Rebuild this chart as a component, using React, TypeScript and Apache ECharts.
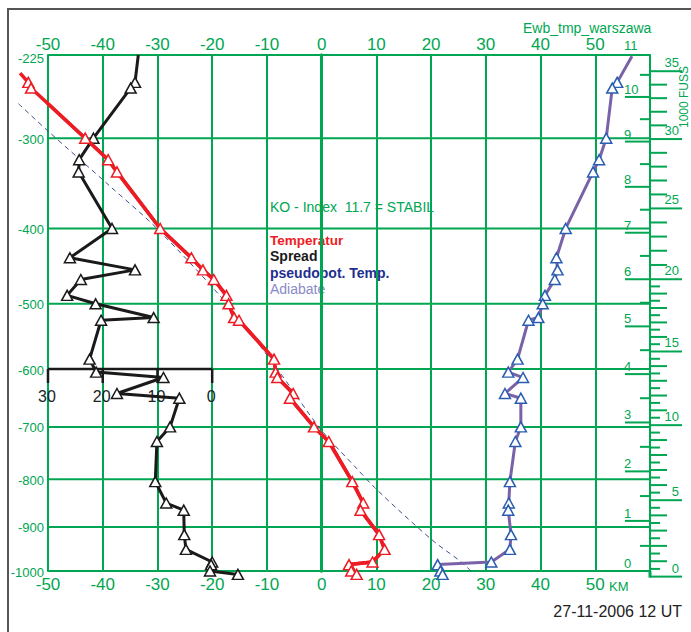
import React, { useEffect, useRef } from 'react';
import * as echarts from 'echarts';

const GREEN = '#00a651';
const RED = '#ed1c24';
const BLACK = '#1a1a1a';
const PURPLE = '#7a62a8';
const BLUE = '#2a5db0';
const FONT = '"Liberation Sans", Arial, Helvetica, sans-serif';

// Sounding levels (hPa)
const levels = [248, 253, 300, 322, 335, 400, 437, 453, 466, 488, 500, 520, 524, 584, 605, 614, 641, 649, 700, 727, 805, 849, 864, 917, 950, 979, 985, 1000, 1008];
// Temperature (°C)
const temperature = [-53.6, -53.1, -43.2, -39.0, -37.4, -29.5, -23.8, -21.7, -19.7, -17.4, -17.0, -16.0, -15.1, -8.7, -8.4, -8.1, -5.2, -5.8, -1.4, 1.3, 5.6, 7.6, 7.1, 10.5, 11.5, 9.3, 5.0, 5.4, 6.4];
// Dew point spread (K)
const spread = [14.1, 14.9, 21.7, 24.3, 24.4, 18.3, 26.0, 14.1, 24.0, 26.5, 21.3, 10.7, 20.3, 22.4, 21.2, 8.9, 17.4, 6.0, 7.7, 10.1, 10.4, 8.4, 5.2, 5.1, 4.8, 0.0, 0.2, 0.4, -4.7];
// Pseudopotential temperature (°C)
const pseudoTemp = [54.0, 53.1, 52.0, 50.7, 49.6, 44.6, 42.9, 43.1, 42.6, 40.8, 40.4, 39.6, 37.8, 35.8, 34.1, 36.8, 33.5, 36.4, 36.4, 35.4, 34.4, 34.2, 34.1, 34.6, 34.4, 31.0, 21.2, 21.7, 22.1];

// Continuations above the first marked level: [pressure, value]
const temperatureAbove = [240, -55.1];
const spreadAbove = [225, 13.5];
const pseudoAbove = [226, 56.7];

// Adiabat (dashed)
const adiabatLevels = [267, 292, 351, 400, 500, 600, 704, 780, 816, 875, 933, 979, 1008];
const adiabatTemp = [-55.4, -50.2, -38.6, -30.1, -17.3, -8.1, -0.2, 6.5, 9.6, 15.1, 20.6, 25.5, 27.9];

// Axis tick values
const pressureTicks = [225, 300, 400, 500, 600, 700, 800, 900, 1000];
const kmTicks = [0, 1, 2, 3, 4, 5, 6, 7, 8, 9, 10, 11];
const kmHalfTicks = [0.5, 1.5, 2.5, 3.5, 4.5, 5.5, 6.5, 7.5, 8.5, 9.5, 10.5];
const feetMajorTicks = [0, 5, 10, 15, 20, 25, 30, 35];
const spreadTicks = [30, 20, 10, 0];
const spreadAxisLevel = 600;

const KAPPA = 0.286;
const kp = (p: number) => Math.pow(p, KAPPA);
const kmToP = (h: number) => 1000 * Math.pow(1 - (0.0065 * h * 1000) / 288.15, 5.2559);
const ftToP = (kft: number) => 1013.25 * Math.pow(1 - (0.0065 * kft * 304.8) / 288.15, 5.2559);

const feetMinorTicks: number[] = [];
for (let f = 0.5; f < 35; f += 0.5) {
  if (f % 5 === 0) continue;
  if (f < 20 || Number.isInteger(f)) feetMinorTicks.push(f);
}

export default function App() {
  const ref = useRef<HTMLDivElement>(null);
  useEffect(() => {
    if (!ref.current) return;
    const chart = echarts.init(ref.current, undefined, { renderer: 'svg' });

    const heightData: number[][] = [];
    kmTicks.forEach((h) => heightData.push([60, kp(kmToP(h)), h, 0]));
    kmHalfTicks.forEach((h) => heightData.push([60, kp(kmToP(h)), h, 1]));
    feetMajorTicks.forEach((f) => heightData.push([60, kp(ftToP(f)), f, 2]));
    feetMinorTicks.forEach((f) => heightData.push([60, kp(ftToP(f)), f, Number.isInteger(f) ? 3 : 4]));

    const symStyle = (c: string) => ({ color: '#ffffff', borderColor: c, borderWidth: 1.5 });

    const tempPoints = [[temperatureAbove[1], kp(temperatureAbove[0])], ...levels.map((p, i) => [temperature[i], kp(p)])];
    const adiabatPoints = adiabatLevels.map((p, i) => [adiabatTemp[i], kp(p)]);

    const polylineSeries = (name: string, pts: number[][], style: any, smooth: number, z: number) => ({
      type: 'custom', name, xAxisIndex: 0, yAxisIndex: 0, clip: false, silent: true, z,
      data: pts,
      renderItem: (params: any, api: any) => {
        if (params.dataIndex !== 0) return null;
        return {
          type: 'polyline',
          shape: { points: pts.map((d) => api.coord(d)), smooth },
          style: { fill: null, ...style },
        };
      },
    });

    const option: any = {
      animation: false,
      backgroundColor: '#ffffff',
      grid: { left: 48, right: 41, top: 55, bottom: 61, containLabel: false, outerBoundsMode: 'none' },
      xAxis: [
        {
          type: 'value', position: 'bottom', min: -50, max: 60, interval: 10,
          axisLine: { show: true, lineStyle: { color: GREEN, width: 2 } },
          axisTick: { show: false },
          splitLine: { show: true, lineStyle: { color: GREEN, width: 2 } },
          axisLabel: { color: GREEN, fontSize: 17, fontFamily: FONT, margin: 5, formatter: (v: number) => (v === 60 ? '' : String(v)) },
        },
        {
          type: 'value', position: 'top', min: -50, max: 60, interval: 10,
          axisLine: { show: true, lineStyle: { color: GREEN, width: 2 } },
          axisTick: { show: false },
          splitLine: { show: false },
          axisLabel: { color: GREEN, fontSize: 17, fontFamily: FONT, margin: 2, formatter: (v: number) => (v === 60 ? '' : String(v)) },
        },
        {
          type: 'value', show: false, min: -80, max: 30, inverse: true,
          splitLine: { show: false },
        },
      ],
      yAxis: [
        {
          type: 'value', position: 'left', min: kp(225), max: kp(1000), inverse: true,
          axisLine: { show: true, lineStyle: { color: GREEN, width: 3 } },
          axisTick: { show: false }, axisLabel: { show: false }, splitLine: { show: false },
        },
        {
          type: 'value', position: 'right', min: kp(225), max: kp(1000), inverse: true,
          axisLine: { show: true, lineStyle: { color: GREEN, width: 3 } },
          axisTick: { show: false }, axisLabel: { show: false }, splitLine: { show: false },
        },
      ],
      series: [
        {
          type: 'custom', name: 'pressureGrid', xAxisIndex: 0, yAxisIndex: 0, clip: false, silent: true, z: 1,
          data: pressureTicks.map((p) => [-50, kp(p), p]),
          renderItem: (params: any, api: any) => {
            const cs = params.coordSys;
            const y = api.coord([-50, api.value(1)])[1];
            const p = api.value(2);
            return {
              type: 'group',
              children: [
                { type: 'line', shape: { x1: cs.x, y1: y, x2: cs.x + cs.width, y2: y }, style: { stroke: GREEN, lineWidth: 2 } },
                { type: 'text', x: cs.x - 4, y: y + (p === 225 ? 3 : 1), style: { text: '-' + p, fill: GREEN, font: `13px ${FONT}`, align: 'right', verticalAlign: 'middle' } },
              ],
            };
          },
        },
        {
          type: 'custom', name: 'heightScale', xAxisIndex: 0, yAxisIndex: 0, clip: false, silent: true, z: 3,
          data: heightData,
          renderItem: (params: any, api: any) => {
            const cs = params.coordSys;
            const xr = cs.x + cs.width;
            const y = api.coord([60, api.value(1)])[1];
            const h = api.value(2);
            const kind = api.value(3);
            const children: any[] = [];
            if (kind === 0) {
              children.push({ type: 'text', x: xr - 26, y: y - 1, style: { text: String(h), fill: GREEN, font: `13px ${FONT}`, align: 'left', verticalAlign: 'bottom' } });
              if (y >= cs.y) children.push({ type: 'line', shape: { x1: xr - 25, y1: y, x2: xr, y2: y }, style: { stroke: GREEN, lineWidth: 2 } });
            } else if (kind === 1) {
              children.push({ type: 'line', shape: { x1: xr - 10, y1: y, x2: xr, y2: y }, style: { stroke: GREEN, lineWidth: 2 } });
            } else if (kind === 2) {
              children.push({ type: 'line', shape: { x1: xr, y1: y, x2: xr + 32, y2: y }, style: { stroke: GREEN, lineWidth: 2 } });
              children.push({ type: 'text', x: xr + 29, y: y - 2, style: { text: String(h), fill: GREEN, font: `13px ${FONT}`, align: 'right', verticalAlign: 'bottom' } });
              if (h === 0) children.push({ type: 'line', shape: { x1: xr, y1: cs.y + cs.height, x2: xr, y2: y + 1 }, style: { stroke: GREEN, lineWidth: 3 } });
            } else if (kind === 3) {
              children.push({ type: 'line', shape: { x1: xr, y1: y, x2: xr + 17, y2: y }, style: { stroke: GREEN, lineWidth: 2 } });
            } else {
              children.push({ type: 'line', shape: { x1: xr, y1: y, x2: xr + 10, y2: y }, style: { stroke: GREEN, lineWidth: 2 } });
            }
            return { type: 'group', children };
          },
        },
        {
          type: 'line', name: 'spreadAxis', xAxisIndex: 2, yAxisIndex: 0, symbol: 'none', silent: true, z: 3,
          data: [[spreadTicks[0], kp(spreadAxisLevel)], [spreadTicks[spreadTicks.length - 1], kp(spreadAxisLevel)]],
          lineStyle: { color: BLACK, width: 2.5 },
        },
        {
          type: 'custom', name: 'spreadTicks', xAxisIndex: 2, yAxisIndex: 0, clip: false, silent: true, z: 3,
          data: spreadTicks.map((s) => [s, kp(spreadAxisLevel)]),
          renderItem: (params: any, api: any) => {
            const pt = api.coord([api.value(0), api.value(1)]);
            return {
              type: 'group',
              children: [
                { type: 'line', shape: { x1: pt[0], y1: pt[1], x2: pt[0], y2: pt[1] + 14 }, style: { stroke: BLACK, lineWidth: 2.5 } },
                { type: 'text', x: pt[0] - 1, y: pt[1] + 27, style: { text: String(api.value(0)), fill: '#222', font: `16px ${FONT}`, align: 'center', verticalAlign: 'middle' } },
              ],
            };
          },
        },
        polylineSeries('Adiabate', adiabatPoints, { stroke: '#3d4f8c', lineWidth: 1, lineDash: [5, 4] }, 0.3, 4),
        {
          type: 'line', name: 'pseudopot. Temp.', xAxisIndex: 0, yAxisIndex: 0, clip: false, z: 5,
          symbol: 'triangle', symbolSize: [11, 10],
          data: [{ value: [pseudoAbove[1], kp(pseudoAbove[0])], symbol: 'none' }, ...levels.map((p, i) => [pseudoTemp[i], kp(p)])],
          lineStyle: { color: PURPLE, width: 3 },
          itemStyle: symStyle(BLUE),
        },
        {
          type: 'line', name: 'Spread', xAxisIndex: 2, yAxisIndex: 0, clip: false, z: 5,
          symbol: 'triangle', symbolSize: [11, 10],
          data: [{ value: [spreadAbove[1], kp(spreadAbove[0])], symbol: 'none' }, ...levels.map((p, i) => [spread[i], kp(p)])],
          lineStyle: { color: BLACK, width: 3 },
          itemStyle: symStyle(BLACK),
        },
        polylineSeries('TemperaturLine', tempPoints, { stroke: RED, lineWidth: 3.5, lineJoin: 'round' }, 0, 6),
        {
          type: 'line', name: 'Temperatur', xAxisIndex: 0, yAxisIndex: 0, clip: false, z: 7,
          symbol: 'triangle', symbolSize: [11, 10],
          data: [{ value: tempPoints[0], symbol: 'none' }, ...tempPoints.slice(1)],
          lineStyle: { color: RED, width: 3.5 },
          itemStyle: symStyle(RED),
        },
      ],
      graphic: [
        { type: 'rect', z: -100, shape: { x: 8, y: 9, width: 720, height: 700 }, style: { fill: 'none', stroke: '#555', lineWidth: 2 } },
        { type: 'text', x: 523, y: 28, style: { text: 'Ewb_tmp_warszawa', fill: GREEN, font: `14px ${FONT}`, align: 'left', verticalAlign: 'middle' } },
        { type: 'text', x: 682, y: 611, style: { text: '27-11-2006 12 UT', fill: '#222', font: `16px ${FONT}`, align: 'right', verticalAlign: 'middle' } },
        { type: 'text', x: 609, y: 586, style: { text: 'KM', fill: GREEN, font: `13px ${FONT}`, align: 'left', verticalAlign: 'middle' } },
        { type: 'text', x: 684, y: 97, rotation: Math.PI / 2, style: { text: '1000 FUSS', fill: GREEN, font: `12px ${FONT}`, align: 'center', verticalAlign: 'middle' } },
        { type: 'text', x: 270, y: 207, style: { text: 'KO - Index  11.7 = STABIL', fill: GREEN, font: `14px ${FONT}`, align: 'left', verticalAlign: 'middle' } },
        { type: 'text', x: 270, y: 240, style: { text: 'Temperatur', fill: RED, font: `bold 13.5px ${FONT}`, align: 'left', verticalAlign: 'middle' } },
        { type: 'text', x: 270, y: 256, style: { text: 'Spread', fill: BLACK, font: `bold 14px ${FONT}`, align: 'left', verticalAlign: 'middle' } },
        { type: 'text', x: 270, y: 273, style: { text: 'pseudopot. Temp.', fill: '#1f2f8f', font: `bold 14px ${FONT}`, align: 'left', verticalAlign: 'middle' } },
        { type: 'text', x: 270, y: 289, style: { text: 'Adiabate', fill: '#8a8ac8', font: `14px ${FONT}`, align: 'left', verticalAlign: 'middle' } },
      ],
    };
    chart.setOption(option);
    return () => chart.dispose();
  }, []);
  return <div ref={ref} style={{ position: 'absolute', left: 0, top: 0, width: 691, height: 632 }} />;
}
